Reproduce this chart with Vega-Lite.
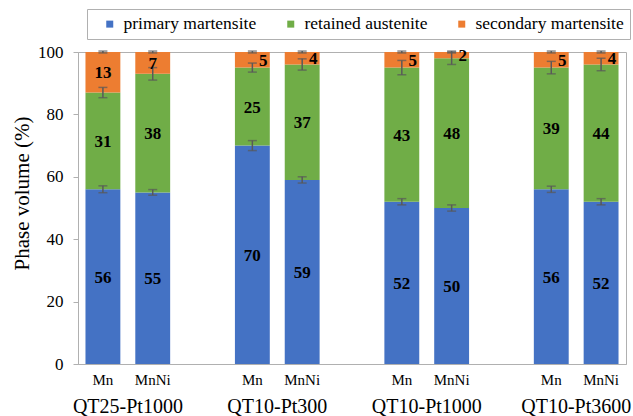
{
  "$schema": "https://vega.github.io/schema/vega-lite/v6.json",
  "width": 548,
  "height": 312,
  "autosize": {"type": "none"},
  "padding": {"left": 78, "top": 52, "right": 7, "bottom": 52},
  "background": "white",
  "config": {
    "font": "Liberation Serif, Times New Roman, serif",
    "view": {"stroke": "#b0b0b0", "strokeWidth": 1},
    "axis": {"labelFont": "Liberation Serif, Times New Roman, serif", "titleFont": "Liberation Serif, Times New Roman, serif", "labelColor": "#000000", "titleColor": "#000000", "domainColor": "#b0b0b0", "tickColor": "#b0b0b0", "grid": false},
    "legend": {"labelFont": "Liberation Serif, Times New Roman, serif"},
    "text": {"font": "Liberation Serif, Times New Roman, serif"}
  },
  "data": {
    "values": [
      {"group": "QT25-Pt1000", "alloy": "Mn", "phase": "primary martensite", "value": 56, "err": 1.1},
      {"group": "QT25-Pt1000", "alloy": "Mn", "phase": "retained austenite", "value": 31, "err": 1.65},
      {"group": "QT25-Pt1000", "alloy": "Mn", "phase": "secondary martensite", "value": 13, "err": 0.3},
      {"group": "QT25-Pt1000", "alloy": "MnNi", "phase": "primary martensite", "value": 55, "err": 0.9},
      {"group": "QT25-Pt1000", "alloy": "MnNi", "phase": "retained austenite", "value": 38, "err": 2.0},
      {"group": "QT25-Pt1000", "alloy": "MnNi", "phase": "secondary martensite", "value": 7, "err": 0.3},
      {"group": "QT10-Pt300", "alloy": "Mn", "phase": "primary martensite", "value": 70, "err": 1.6},
      {"group": "QT10-Pt300", "alloy": "Mn", "phase": "retained austenite", "value": 25, "err": 1.45},
      {"group": "QT10-Pt300", "alloy": "Mn", "phase": "secondary martensite", "value": 5, "err": 0.3},
      {"group": "QT10-Pt300", "alloy": "MnNi", "phase": "primary martensite", "value": 59, "err": 1.0},
      {"group": "QT10-Pt300", "alloy": "MnNi", "phase": "retained austenite", "value": 37, "err": 1.8},
      {"group": "QT10-Pt300", "alloy": "MnNi", "phase": "secondary martensite", "value": 4, "err": 0.3},
      {"group": "QT10-Pt1000", "alloy": "Mn", "phase": "primary martensite", "value": 52, "err": 1.0},
      {"group": "QT10-Pt1000", "alloy": "Mn", "phase": "retained austenite", "value": 43, "err": 2.3},
      {"group": "QT10-Pt1000", "alloy": "Mn", "phase": "secondary martensite", "value": 5, "err": 0.3},
      {"group": "QT10-Pt1000", "alloy": "MnNi", "phase": "primary martensite", "value": 50, "err": 1.0},
      {"group": "QT10-Pt1000", "alloy": "MnNi", "phase": "retained austenite", "value": 48, "err": 2.0},
      {"group": "QT10-Pt1000", "alloy": "MnNi", "phase": "secondary martensite", "value": 2, "err": 0.3},
      {"group": "QT10-Pt3600", "alloy": "Mn", "phase": "primary martensite", "value": 56, "err": 1.0},
      {"group": "QT10-Pt3600", "alloy": "Mn", "phase": "retained austenite", "value": 39, "err": 2.0},
      {"group": "QT10-Pt3600", "alloy": "Mn", "phase": "secondary martensite", "value": 5, "err": 0.3},
      {"group": "QT10-Pt3600", "alloy": "MnNi", "phase": "primary martensite", "value": 52, "err": 1.0},
      {"group": "QT10-Pt3600", "alloy": "MnNi", "phase": "retained austenite", "value": 44, "err": 2.0},
      {"group": "QT10-Pt3600", "alloy": "MnNi", "phase": "secondary martensite", "value": 4, "err": 0.3}
    ]
  },
  "transform": [
    {"calculate": "datum.group + '|' + datum.alloy", "as": "bar"},
    {"stack": "value", "groupby": ["bar"], "sort": [{"field": "phase", "order": "ascending"}], "as": ["v0", "v1"]},
    {"calculate": "(datum.v0 + datum.v1) / 2", "as": "mid"}
  ],
  "encoding": {
    "x": {
      "field": "bar",
      "type": "nominal",
      "scale": {
        "domain": ["QT25-Pt1000|Mn", "QT25-Pt1000|MnNi", "gap1", "QT10-Pt300|Mn", "QT10-Pt300|MnNi", "gap2", "QT10-Pt1000|Mn", "QT10-Pt1000|MnNi", "gap3", "QT10-Pt3600|Mn", "QT10-Pt3600|MnNi"],
        "paddingInner": 0.3,
        "paddingOuter": 0.15
      },
      "axis": {
        "title": null,
        "labelAngle": 0,
        "ticks": false,
        "labelPadding": 8,
        "labelFontSize": 15,
        "labelExpr": "indexof(datum.value, '|') < 0 ? '' : substring(datum.value, indexof(datum.value, '|') + 1)"
      }
    }
  },
  "layer": [
    {
      "mark": {"type": "bar"},
      "encoding": {
        "y": {
          "field": "v0",
          "type": "quantitative",
          "scale": {"domain": [0, 100], "nice": false},
          "axis": {
            "title": "Phase volume (%)",
            "values": [0, 20, 40, 60, 80, 100],
            "tickSize": 5,
            "labelPadding": 10,
            "labelFontSize": 17,
            "titleFontSize": 21,
            "titleFontWeight": "normal",
            "titleAngle": -90,
            "titleBaseline": "middle",
            "titleAlign": "center",
            "titleX": -56,
            "titleY": 141
          }
        },
        "y2": {"field": "v1"},
        "color": {
          "field": "phase",
          "type": "nominal",
          "scale": {
            "domain": ["primary martensite", "retained austenite", "secondary martensite"],
            "range": ["#4472C4", "#70AD47", "#ED7D31"]
          },
          "legend": {
            "title": null,
            "orient": "none",
            "direction": "horizontal",
            "legendX": 9,
            "legendY": -43,
            "symbolType": "square",
            "symbolSize": 49,
            "symbolStrokeWidth": 0,
            "labelFontSize": 17.5,
            "labelColor": "#000000",
            "labelOffset": 5,
            "labelLimit": 300,
            "columnPadding": 17,
            "padding": 6,
            "symbolOffset": 8,
            "strokeColor": "#b0b0b0",
            "fillColor": "white"
          }
        }
      }
    },
    {
      "mark": {"type": "errorbar", "ticks": {"size": 9}, "color": "#595959", "thickness": 1.5},
      "encoding": {
        "y": {"field": "v1", "type": "quantitative", "title": "Phase volume (%)"},
        "yError": {"field": "err"}
      }
    },
    {
      "transform": [{"filter": "datum.value > 5"}],
      "mark": {"type": "text", "fontWeight": "bold", "fontSize": 17, "color": "#000000", "baseline": "middle", "dy": 1},
      "encoding": {
        "y": {"field": "mid", "type": "quantitative", "title": "Phase volume (%)"},
        "text": {"field": "value", "type": "quantitative"}
      }
    },
    {
      "transform": [{"filter": "datum.value <= 5"}],
      "mark": {"type": "text", "fontWeight": "bold", "fontSize": 17, "color": "#000000", "baseline": "middle", "dx": 11, "dy": 1},
      "encoding": {
        "y": {"field": "mid", "type": "quantitative", "title": "Phase volume (%)"},
        "text": {"field": "value", "type": "quantitative"}
      }
    },
    {
      "transform": [{"filter": "datum.alloy == 'Mn' && datum.phase == 'primary martensite'"}],
      "mark": {"type": "text", "fontSize": 20, "color": "#000000", "baseline": "middle", "dx": 25},
      "encoding": {
        "y": {"datum": -13.8, "type": "quantitative", "title": "Phase volume (%)"},
        "text": {"field": "group", "type": "nominal"}
      }
    }
  ]
}
